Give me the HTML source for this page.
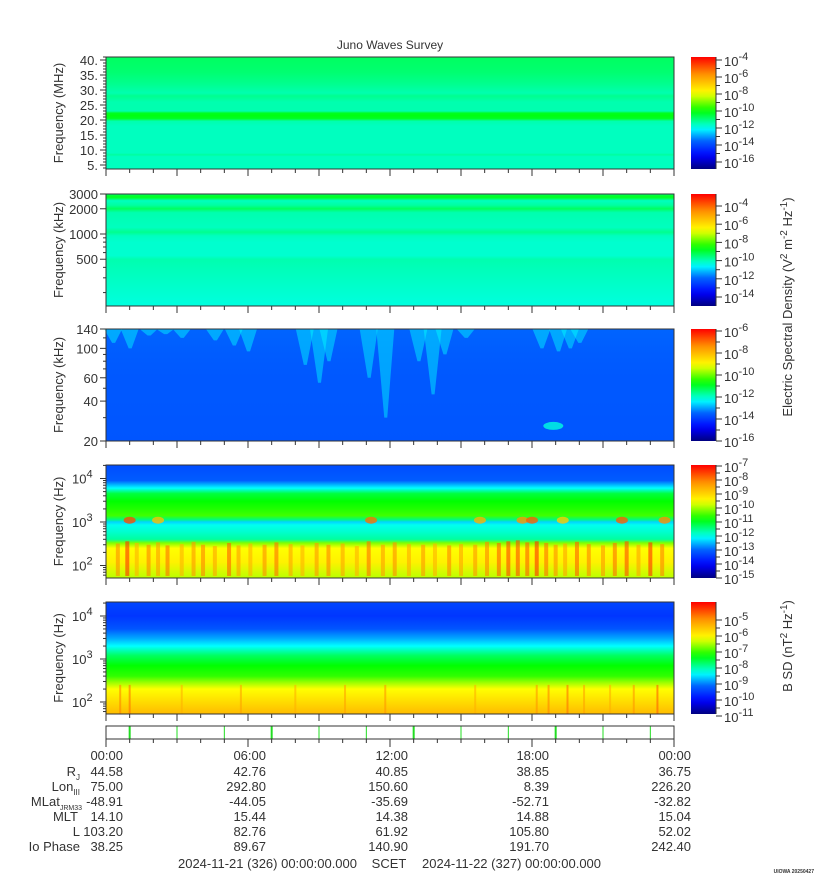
<!DOCTYPE html>
<html><head><meta charset="utf-8">
<style>
body{margin:0;background:#fff;}
svg{display:block;font-family:"Liberation Sans","DejaVu Sans",sans-serif;}
text{fill:#333;}
</style></head>
<body>
<svg id="chart" width="815" height="880" viewBox="0 0 815 880" xmlns="http://www.w3.org/2000/svg">
<defs id="defs"></defs>
<text x="390" y="49" font-size="12" text-anchor="middle">Juno Waves Survey</text>
<g id="layer"></g>
</svg>
<script>
// ---- data ----
const hours = [0, 6, 12, 18, 24];
const timeLabels = ["00:00", "06:00", "12:00", "18:00", "00:00"];
const ephemRows = ["Rj", "Lon", "MLat", "MLT", "L", "Io Phase"];
const ephemRj = [44.58, 42.76, 40.85, 38.85, 36.75];
const ephemLon = [75.00, 292.80, 150.60, 8.39, 226.20];
const ephemMLat = [-48.91, -44.05, -35.69, -52.71, -32.82];
const ephemMLT = [14.10, 15.44, 14.38, 14.88, 15.04];
const ephemL = [103.20, 82.76, 61.92, 105.80, 52.02];
const ephemIo = [38.25, 89.67, 140.90, 191.70, 242.40];
const greenMarkHours = [1, 3, 5, 7, 9, 11, 13, 15, 17, 19, 21, 23];

// band profiles: [frequency, colormap level 0..1]
const p1Freq = [41, 36, 32, 29, 28, 26, 23, 22.3, 21.5, 20.5, 19.6, 18, 9, 8.4, 7.8, 3.7];
const p1Level = [0.46, 0.45, 0.43, 0.41, 0.43, 0.41, 0.41, 0.50, 0.51, 0.50, 0.41, 0.40, 0.40, 0.42, 0.40, 0.40];
const p2Freq = [3000, 2850, 2700, 2500, 2200, 2000, 1800, 1200, 1050, 950, 800, 550, 500, 138];
const p2Level = [0.42, 0.50, 0.49, 0.40, 0.42, 0.46, 0.41, 0.40, 0.43, 0.40, 0.39, 0.39, 0.41, 0.38];
const p3Freq = [140, 110, 90, 60, 45, 20];
const p3Level = [0.25, 0.245, 0.24, 0.235, 0.235, 0.23];
const p4Freq = [20000, 9000, 6000, 4500, 3000, 2000, 1400, 1150, 1000, 850, 600, 400, 330, 250, 120, 55];
const p4Level = [0.22, 0.24, 0.36, 0.48, 0.52, 0.54, 0.56, 0.45, 0.33, 0.37, 0.39, 0.42, 0.60, 0.68, 0.70, 0.64];
const p5Freq = [20000, 10000, 5000, 3000, 2000, 1200, 700, 400, 280, 200, 120, 55];
const p5Level = [0.21, 0.19, 0.23, 0.30, 0.36, 0.46, 0.52, 0.55, 0.62, 0.68, 0.72, 0.78];

// streaks in low band of panel 4 (hour, top frequency, level)
const p4StreakHour = [0.5,0.9,1.3,1.8,2.2,2.6,3.2,3.7,4.1,4.6,5.2,5.6,6.1,6.7,7.2,7.8,8.3,8.9,9.4,10.0,10.6,11.1,11.7,12.2,12.8,13.4,13.9,14.5,15.0,15.6,16.1,16.6,17.0,17.4,17.8,18.2,18.6,19.0,19.4,19.9,20.4,21.0,21.5,22.0,22.5,23.0,23.5];
const p4StreakTop = [320,360,330,300,340,290,310,350,300,280,330,290,320,300,340,310,290,330,300,320,280,360,300,340,310,300,320,290,310,300,350,330,360,380,340,360,330,300,320,350,310,290,330,360,300,340,310];
const p4StreakLevel = [0.85,0.95,0.80,0.86,0.83,0.88,0.80,0.84,0.86,0.82,0.90,0.83,0.80,0.85,0.88,0.82,0.80,0.84,0.86,0.82,0.80,0.88,0.83,0.85,0.81,0.84,0.80,0.86,0.82,0.84,0.86,0.90,0.93,0.92,0.90,0.95,0.88,0.85,0.82,0.90,0.86,0.84,0.88,0.92,0.82,0.95,0.86];
// mid-band orange blobs in panel 4 (hour, level)
const p4BlobHour = [1.0, 2.2, 11.2, 15.8, 17.6, 18.0, 19.3, 21.8, 23.6];
const p4BlobLevel = [0.92, 0.78, 0.88, 0.80, 0.84, 0.90, 0.76, 0.90, 0.85];
// panel 3 cyan intrusions (hour, lowest frequency kHz)
const p3PatchHour = [0.3,1.0,1.8,2.5,3.2,4.6,5.4,6.0,8.4,9.0,9.4,11.1,11.8,13.2,13.8,14.3,18.4,19.1,19.6,20.0,15.2];
const p3PatchLow = [110,100,125,128,120,115,105,95,75,55,80,60,30,80,45,90,100,95,100,110,120];
// panel 5 streaks (hour, level)
const p5StreakHour = [0.6,1.0,3.2,5.7,8.0,10.1,11.8,15.6,18.2,18.7,19.5,20.2,21.3,22.3,23.3];
const p5StreakLevel = [0.86,0.88,0.80,0.82,0.80,0.82,0.84,0.80,0.84,0.86,0.88,0.82,0.80,0.84,0.90];

// ---- geometry ----
const X0 = 106, X1 = 674;
const xT = h => X0 + (X1 - X0) * h / 24;
const panels = [
  {top:57, bot:169, fy:f => 180 - 3 * f},
  {top:194, bot:306, fy:f => 234 - 36.4 * Math.log(f / 1000)},
  {top:329, bot:441, fy:f => 441 - 112 * Math.log(f / 20) / Math.log(7)},
  {top:465, bot:578, fy:f => 522 - 43.5 * Math.log10(f / 1000)},
  {top:602, bot:714, fy:f => 659 - 43 * Math.log10(f / 1000)}
];
const NS = "http://www.w3.org/2000/svg";
const layer = document.getElementById('layer');
const defs = document.getElementById('defs');
function mk(tag, attrs, parent) {
  const e = document.createElementNS(NS, tag);
  for (const k in attrs) e.setAttribute(k, attrs[k]);
  (parent || layer).appendChild(e);
  return e;
}
const cmapT = [0, 0.12, 0.25, 0.36, 0.52, 0.68, 0.84, 1];
const cmapC = [[0,0,128],[0,0,255],[0,100,255],[0,255,255],[0,255,0],[255,255,0],[255,150,0],[255,0,0]];
function cmap(t) {
  t = Math.max(0, Math.min(1, t));
  for (let i = 1; i < cmapT.length; i++) {
    if (t <= cmapT[i]) {
      const a = (t - cmapT[i-1]) / (cmapT[i] - cmapT[i-1]);
      const c = cmapC[i-1].map((v, j) => Math.round(v + (cmapC[i][j] - v) * a));
      return `rgb(${c[0]},${c[1]},${c[2]})`;
    }
  }
  return 'rgb(255,0,0)';
}
function bandGradient(id, p, freqs, levels) {
  const g = mk('linearGradient', {id:id, x1:0, y1:p.top, x2:0, y2:p.bot, gradientUnits:'userSpaceOnUse'}, defs);
  freqs.forEach((f, i) => {
    const off = (p.fy(f) - p.top) / (p.bot - p.top);
    mk('stop', {offset:Math.max(0, Math.min(1, off)), 'stop-color':cmap(levels[i])}, g);
  });
}
const profiles = [[p1Freq,p1Level],[p2Freq,p2Level],[p3Freq,p3Level],[p4Freq,p4Level],[p5Freq,p5Level]];
panels.forEach((p, i) => {
  bandGradient('bg' + i, p, profiles[i][0], profiles[i][1]);
  const r = mk('rect', {x:X0, y:p.top, width:X1 - X0, height:p.bot - p.top, fill:`url(#bg${i})`});
  
  
});
// panel 3 patches
const p3 = panels[2];
p3PatchHour.forEach((h, i) => {
  const y = p3.fy(p3PatchLow[i]);
  const e = mk('path', {d:`M${xT(h)-9},${p3.top} L${xT(h)+9},${p3.top} L${xT(h)+2},${y} L${xT(h)-1},${y} Z`, fill:cmap(0.36), opacity:0.45});
  
  
});
{
  const e = mk('ellipse', {cx:xT(18.9), cy:p3.fy(26), rx:10, ry:4, fill:cmap(0.38), opacity:0.8});
  
  
}
// panel 4 streaks
const p4 = panels[3];
p4StreakHour.forEach((h, i) => {
  const y = p4.fy(p4StreakTop[i]);
  const e = mk('rect', {x:xT(h) - 2, y:y, width:4, height:p4.bot - y - 2, fill:cmap(p4StreakLevel[i]), opacity:0.6});
  
  
});
p4BlobHour.forEach((h, i) => {
  const e = mk('ellipse', {cx:xT(h), cy:p4.fy(1100), rx:6, ry:3.5, fill:cmap(p4BlobLevel[i]), opacity:0.8});
  
  
});
// panel 5 streaks
const p5 = panels[4];
p5StreakHour.forEach((h, i) => {
  const y = p5.fy(250);
  const e = mk('rect', {x:xT(h) - 1, y:y, width:2, height:p5.bot - y, fill:cmap(p5StreakLevel[i]), opacity:0.6});
  
  
});

// frames, axes
const yTicks = [
  {major:[5,10,15,20,25,30,35,40], labels:["5.","10.","15.","20.","25.","30.","35.","40."], minor:[4,6,7,8,9,11,12,13,14,16,17,18,19,21,22,23,24,26,27,28,29,31,32,33,34,36,37,38,39,41]},
  {major:[500,1000,2000,3000], labels:["500","1000","2000","3000"], minor:[200,300,400,600,700,800,900]},
  {major:[20,40,60,100,140], labels:["20","40","60","100","140"], minor:[30,50,70,80,90,120]},
  {major:[100,1000,10000], labels:["10^2","10^3","10^4"], minor:[60,70,80,90,200,300,400,500,600,700,800,900,2000,3000,4000,5000,6000,7000,8000,9000,20000]},
  {major:[100,1000,10000], labels:["10^2","10^3","10^4"], minor:[60,70,80,90,200,300,400,500,600,700,800,900,2000,3000,4000,5000,6000,7000,8000,9000,20000]}
];
const yTitles = ["Frequency (MHz)","Frequency (kHz)","Frequency (kHz)","Frequency (Hz)","Frequency (Hz)"];
function pow10(x, y, exp, size) {
  const tx = mk('text', {x:x, y:y, 'font-size':size || 13});
  tx.appendChild(document.createTextNode('10'));
  const s = mk('tspan', {dy:-6, 'font-size':(size || 13) - 2}, tx);
  s.textContent = exp;
  return tx;
}
panels.forEach((p, i) => {
  const f = mk('rect', {x:X0, y:p.top, width:X1 - X0, height:p.bot - p.top, fill:'none', stroke:'#333', 'stroke-width':1});
  
  
  const tk = yTicks[i];
  tk.major.forEach((v, j) => {
    const y = p.fy(v);
    mk('line', {x1:X0 - 6, x2:X0, y1:y, y2:y, stroke:'#333'});
    let t;
    const lab = tk.labels[j];
    if (lab.startsWith('10^')) {
      t = mk('text', {x:X0 - 34, y:y + 5, 'font-size':13});
      t.appendChild(document.createTextNode('10'));
      const s = mk('tspan', {dy:-6, 'font-size':11}, t); s.textContent = lab.slice(3);
    } else {
      t = mk('text', {x:X0 - 8, y:y + 5, 'font-size':13, 'text-anchor':'end'});
      t.textContent = lab;
    }
    
    
  });
  tk.minor.forEach(v => {
    const y = p.fy(v);
    if (y > p.top - 0.5 && y < p.bot + 0.5) mk('line', {x1:X0 - 3, x2:X0, y1:y, y2:y, stroke:'#333'});
  });
  for (let h = 0; h <= 24; h++) {
    const len = h % 3 === 0 ? 7 : 4;
    mk('line', {x1:xT(h), x2:xT(h), y1:p.bot, y2:p.bot + len, stroke:'#333'});
  }
  const cy = (p.top + p.bot) / 2;
  const tt = mk('text', {x:0, y:0, 'font-size':13, 'text-anchor':'middle', transform:`translate(63,${cy}) rotate(-90)`});
  tt.textContent = yTitles[i];
  
  
});

// colorbars
const cbExp = [[-4,-6,-8,-10,-12,-14,-16],[-4,-6,-8,-10,-12,-14],[-6,-8,-10,-12,-14,-16],[-7,-8,-9,-10,-11,-12,-13,-14,-15],[-5,-6,-7,-8,-9,-10,-11]];
const cbFirstY = [60, 206, 331, 466, 620];
const cbPerDec = [8.5, 9.1, 11, 14, 16];
const cbg = mk('linearGradient', {id:'cb', x1:0, y1:0, x2:0, y2:1}, defs);
for (let k = 0; k <= 20; k++) mk('stop', {offset:k / 20, 'stop-color':cmap(1 - k / 20)}, cbg);
panels.forEach((p, i) => {
  const r = mk('rect', {x:691, y:p.top, width:25, height:p.bot - p.top, fill:'url(#cb)'});
  
  
  mk('line', {x1:716, x2:716, y1:p.top, y2:p.bot, stroke:'#333'});
  cbExp[i].forEach((e, j) => {
    const y = cbFirstY[i] + (cbExp[i][0] - e) * cbPerDec[i];
    mk('line', {x1:716, x2:722, y1:y, y2:y, stroke:'#333'});
    const step = i >= 3 ? 1 : 2;
    const ym = y + step * cbPerDec[i] / 2;
    if (ym < p.bot) mk('line', {x1:716, x2:720, y1:ym, y2:ym, stroke:'#333'});
    const t = pow10(724, y + 6, String(e), 13);
    
    
  });
});
{
  const t = mk('text', {x:0, y:0, 'font-size':13, 'text-anchor':'middle', transform:'translate(792,307) rotate(-90)'});
  t.innerHTML = 'Electric Spectral Density (V<tspan dy="-5" font-size="10">2</tspan><tspan dy="5"> m</tspan><tspan dy="-5" font-size="10">-2</tspan><tspan dy="5"> Hz</tspan><tspan dy="-5" font-size="10">-1</tspan><tspan dy="5">)</tspan>';
  
  
  const t2 = mk('text', {x:0, y:0, 'font-size':13, 'text-anchor':'middle', transform:'translate(792,646) rotate(-90)'});
  t2.innerHTML = 'B SD (nT<tspan dy="-5" font-size="10">2</tspan><tspan dy="5"> Hz</tspan><tspan dy="-5" font-size="10">-1</tspan><tspan dy="5">)</tspan>';
  
  
}

// ephemeris strip
{
  const s = mk('rect', {x:X0, y:726, width:X1 - X0, height:13, fill:'#fff', stroke:'#333'});
  
  
  greenMarkHours.forEach((h, i) => {
    const m = mk('line', {x1:xT(h), x2:xT(h), y1:726.5, y2:738.5, stroke:'#22dd22', 'stroke-width':(h - 1) % 6 === 0 ? 2 : 1});
    
    
  });
  for (let h = 0; h <= 24; h++) {
    mk('line', {x1:xT(h), x2:xT(h), y1:739, y2:739 + (h % 6 === 0 ? 8 : 4), stroke:'#333'});
  }
}
// table
const rowY = [760, 776, 791, 806, 821, 836, 851];
const colRight = [123, 266, 408, 549, 691];
hours.forEach((h, i) => {
  const t = mk('text', {x:colRight[i], y:rowY[0], 'font-size':13, 'text-anchor':'end'});
  t.textContent = timeLabels[i];
  
  
});
const series = [ephemRj, ephemLon, ephemMLat, ephemMLT, ephemL, ephemIo];
series.forEach((arr, r) => {
  arr.forEach((v, i) => {
    const t = mk('text', {x:colRight[i], y:rowY[r + 1], 'font-size':13, 'text-anchor':'end'});
    t.textContent = v.toFixed(2);
    
    
  });
});
const labelHTML = ['R<tspan dy="4" font-size="8">J</tspan>', 'Lon<tspan dy="4" font-size="8">III</tspan>', 'MLat<tspan dy="4" font-size="7">JRM33</tspan>', 'MLT', 'L', 'Io Phase'];
const labelRight = [80, 80, 82, 78, 80, 80];
labelHTML.forEach((h, r) => {
  const t = mk('text', {x:labelRight[r], y:rowY[r + 1], 'font-size':13, 'text-anchor':'end'});
  t.innerHTML = h;
  
  
});
{
  const a = mk('text', {x:357, y:868, 'font-size':13, 'text-anchor':'end'});
  a.textContent = '2024-11-21 (326) 00:00:00.000';
  
  
  const b = mk('text', {x:389, y:868, 'font-size':13, 'text-anchor':'middle'});
  b.textContent = 'SCET';
  
  
  const c = mk('text', {x:422, y:868, 'font-size':13});
  c.textContent = '2024-11-22 (327) 00:00:00.000';
  
  
  const u = mk('text', {x:814, y:873, 'font-size':5, 'text-anchor':'end', 'font-weight':'bold'});
  u.textContent = 'UIOWA 20250427';
  
  
}
</script>
</body></html>
